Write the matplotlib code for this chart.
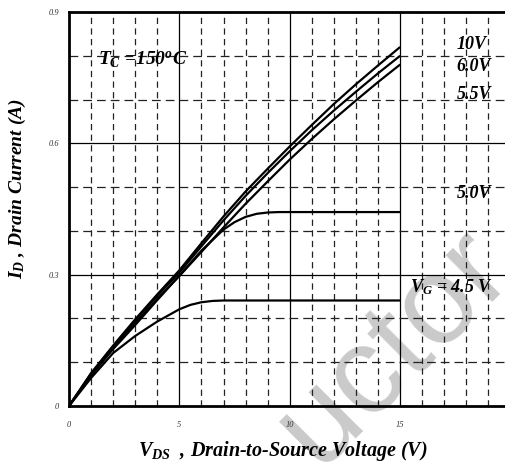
import numpy as np
import matplotlib
matplotlib.use('Agg')
import matplotlib.pyplot as plt

plt.rcParams.update({
    'font.family': 'Liberation Serif',
    'mathtext.fontset': 'custom',
    'mathtext.it': 'Liberation Serif:bold:italic',
    'mathtext.rm': 'Liberation Serif:bold:italic',
    'mathtext.bf': 'Liberation Serif:bold:italic',
})

# output characteristics, Tc = 150 C
vds = [0, 1, 2, 3, 4, 5, 6, 7, 8, 9, 10, 11, 12, 13, 14, 15]
id_10v = [0, .075, .138, .198, .255, .31, .372, .433, .49, .542, .593, .642, .69, .735, .778, .82]
id_6v = [0, .074, .136, .196, .252, .305, .365, .424, .48, .532, .582, .63, .675, .718, .76, .80]
id_55v = [0, .072, .133, .19, .245, .297, .352, .408, .462, .513, .563, .61, .655, .698, .74, .78]

vds_5v = [0, 1, 2, 3, 4, 5, 6, 7, 7.5, 8, 8.5, 9, 9.5, 10, 12, 15]
id_5v = [0, .07, .13, .185, .242, .298, .355, .403, .42, .432, .439, .442, .443, .443, .443, .443]

vds_45v = [0, 1, 2, 3, 4, 5, 5.5, 6, 6.5, 7, 8, 10, 15]
id_45v = [0, .064, .121, .16, .193, .221, .231, .237, .240, .241, .241, .241, .241]

curve_labels = ['10V', '6.0V', '5.5V', '5.0V']
label_y = [0.826, 0.776, 0.712, 0.485]

xticks = [0, 5, 10, 15]
yticks = [0, 0.3, 0.6, 0.9]

fig = plt.figure(figsize=(5.05, 4.62), dpi=100)
ax = fig.add_axes([69/505, 56/462, 1 - 69/505, 394/462])
ax.patch.set_visible(False)

# watermark behind everything
fig.text(318/505, -6/462, 'uctor', fontsize=90, family='Liberation Sans',
         color='#cacaca', rotation=45, rotation_mode='anchor',
         ha='left', va='baseline', zorder=-5)

xmax = 19.75
ax.set_xlim(0, xmax)
ax.set_ylim(0, 0.9)

# grid: solid majors, dashed minors
for x in range(1, 20):
    if x % 5 == 0:
        ax.axvline(x, color='black', lw=0.9, zorder=1)
    else:
        ax.axvline(x, color='#222222', lw=0.9, dashes=(5, 3.5), zorder=1)
for i in range(1, 9):
    y = i / 10
    if i % 3 == 0:
        ax.axhline(y, color='black', lw=0.9, zorder=1)
    else:
        ax.axhline(y, color='#222222', lw=0.9, dashes=(7, 4), zorder=1)

for xs, ys in [(vds, id_10v), (vds, id_6v), (vds, id_55v), (vds_5v, id_5v), (vds_45v, id_45v)]:
    ax.plot(xs, ys, color='black', lw=1.6, zorder=3, solid_capstyle='butt')

txt = dict(fontsize=13, fontweight='bold', fontstyle='italic', va='center', ha='left', zorder=4)
for lab, y in zip(curve_labels, label_y):
    ax.text(17.55, y, lab, **txt)
ax.text(15.45, 0.271, r'$V_G$ = 4.5 V', **txt)
txt['fontsize'] = 14
ax.text(1.3, 0.79, r'$T_C$ =150$^o$C', **txt)

ax.set_xticks(xticks)
ax.set_xticklabels([str(v) for v in xticks])
ax.set_yticks(yticks)
ax.set_yticklabels(['0', '0.3', '0.6', '0.9'])
ax.tick_params(length=0, labelsize=6, labelcolor='#333333')
ax.tick_params(axis='x', pad=11)
ax.tick_params(axis='y', pad=7)
for lab in ax.get_xticklabels() + ax.get_yticklabels():
    lab.set_fontstyle('italic')

ax.spines['right'].set_visible(False)
for s in ['left', 'bottom', 'top']:
    ax.spines[s].set_linewidth(2)
    ax.spines[s].set_zorder(5)

ax.set_xlabel(r'$V_{DS}$  , Drain-to-Source Voltage (V)', fontsize=14.5,
              fontweight='bold', fontstyle='italic')
ax.set_ylabel(r'$I_D$ , Drain Current (A)', fontsize=14,
              fontweight='bold', fontstyle='italic')
ax.xaxis.set_label_coords(0.49, -0.085)
ax.yaxis.set_label_coords(-0.095, 0.552)

fig.savefig('out.png', dpi=100, facecolor='white')
